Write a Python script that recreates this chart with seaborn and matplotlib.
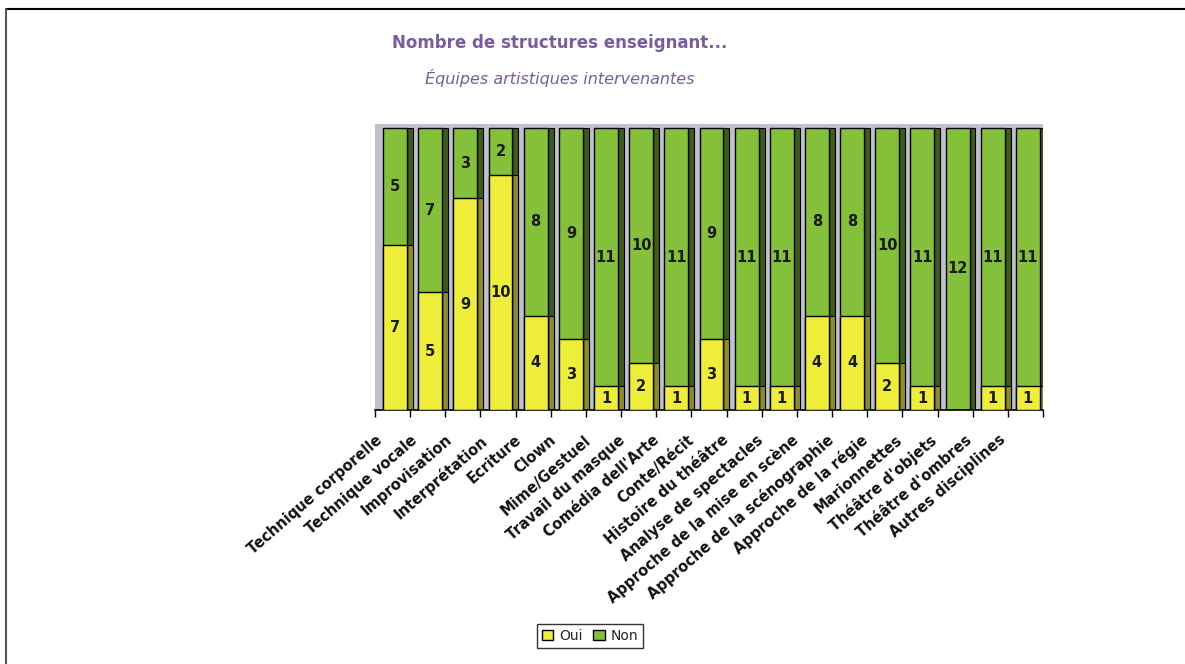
import numpy as np
import pandas as pd
import matplotlib
matplotlib.use("Agg")
import matplotlib.pyplot as plt
import seaborn as sns
from matplotlib.patches import Patch
from matplotlib.lines import Line2D

categories = ["Technique corporelle", "Technique vocale", "Improvisation", "Interprétation",
              "Ecriture", "Clown", "Mime/Gestuel", "Travail du masque", "Comédia dell'Arte",
              "Conte/Récit", "Histoire du théâtre", "Analyse de spectacles",
              "Approche de la mise en scène", "Approche de la scénographie",
              "Approche de la régie", "Marionnettes", "Théâtre d'objets",
              "Théâtre d'ombres", "Autres disciplines"]
oui = [7, 5, 9, 10, 4, 3, 1, 2, 1, 3, 1, 1, 4, 4, 2, 1, 0, 1, 1]
non = [5, 7, 3, 2, 8, 9, 11, 10, 11, 9, 11, 11, 8, 8, 10, 11, 12, 11, 11]

yellow = "#eeee3a"
green = "#84c03a"
yellow_side = "#8c8c2c"
green_side = "#3e5c18"
purple = "#7a5c9e"

df = pd.DataFrame({"cat": categories, "oui": oui, "non": non})
df["total"] = df["oui"] + df["non"]

sns.set_style("white")
plt.rcParams["font.family"] = ["DejaVu Sans"]

W, H = 1185, 664
fig = plt.figure(figsize=(W / 100, H / 100), dpi=100)
ax = fig.add_axes([375 / W, 1 - 410 / H, (1043 - 375) / W, (410 - 124) / H])
ax.set_facecolor("#c0c0ce")

# 3D side faces of the bars
x = np.arange(len(categories))
ax.bar(x + 0.425, df["total"], width=0.17, color=green_side, edgecolor="black", linewidth=0.8, zorder=1)
ax.bar(x + 0.425, df["oui"], width=0.17, color=yellow_side, edgecolor="black", linewidth=0.8, zorder=1)

# stacked bars: total (Non on top) then Oui
sns.barplot(data=df, x="cat", y="total", color=green, saturation=1, width=0.68,
            edgecolor="black", linewidth=1, ax=ax, zorder=2)
sns.barplot(data=df, x="cat", y="oui", color=yellow, saturation=1, width=0.68,
            edgecolor="black", linewidth=1, ax=ax, zorder=3)

for i in range(len(categories)):
    if oui[i] > 0:
        ax.text(i, oui[i] / 2, str(oui[i]), ha="center", va="center",
                fontsize=10.5, fontweight="bold", color="#1a1a1a", zorder=5)
    if non[i] > 0:
        ax.text(i, oui[i] + non[i] / 2, str(non[i]), ha="center", va="center",
                fontsize=10.5, fontweight="bold", color="#1a1a1a", zorder=5)

ax.set_yticks([])
ax.set_xlabel("")
ax.set_ylabel("")

ax.set_xticks(x * 0.985 - 0.55)
ax.set_xticklabels(categories, rotation=41, ha="right", rotation_mode="anchor",
                   fontsize=10.5, fontweight="bold", color="#111111")
ax.tick_params(axis="x", which="major", length=0, pad=16)
ax.set_xticks(np.arange(len(categories) + 1) - 0.57, minor=True)
ax.tick_params(axis="x", which="minor", length=5, width=1, color="black", bottom=True)

ax.set_xlim(-0.57, len(categories) - 0.57)
ax.set_ylim(0, 12.17)

for s in ["top", "right", "left"]:
    ax.spines[s].set_visible(False)
ax.spines["bottom"].set_color("black")
ax.spines["bottom"].set_linewidth(1.2)

# outer frame
fig.add_artist(Line2D([6 / W, 1.0], [1 - 9 / H, 1 - 9 / H], color="black", lw=1.5))
fig.add_artist(Line2D([6 / W, 6 / W], [0, 1 - 9 / H], color="#555555", lw=1.5))

fig.text(560 / W, 1 - 43 / H, "Nombre de structures enseignant...", ha="center", va="center",
         fontsize=12, fontweight="bold", color=purple)
fig.text(560 / W, 1 - 78 / H, "Équipes artistiques intervenantes", ha="center", va="center",
         fontsize=11.5, style="italic", color=purple)

handles = [Patch(facecolor=yellow, edgecolor="black", label="Oui"),
           Patch(facecolor=green, edgecolor="black", label="Non")]
leg = fig.legend(handles=handles, loc="center", bbox_to_anchor=(590 / W, 1 - 636 / H),
                 ncol=2, fontsize=10, frameon=True, fancybox=False, handlelength=0.8,
                 handleheight=0.8, handletextpad=0.4, columnspacing=0.8, borderpad=0.35)
leg.get_frame().set_edgecolor("black")
leg.get_frame().set_linewidth(1)

fig.savefig("out.png", dpi=100)
